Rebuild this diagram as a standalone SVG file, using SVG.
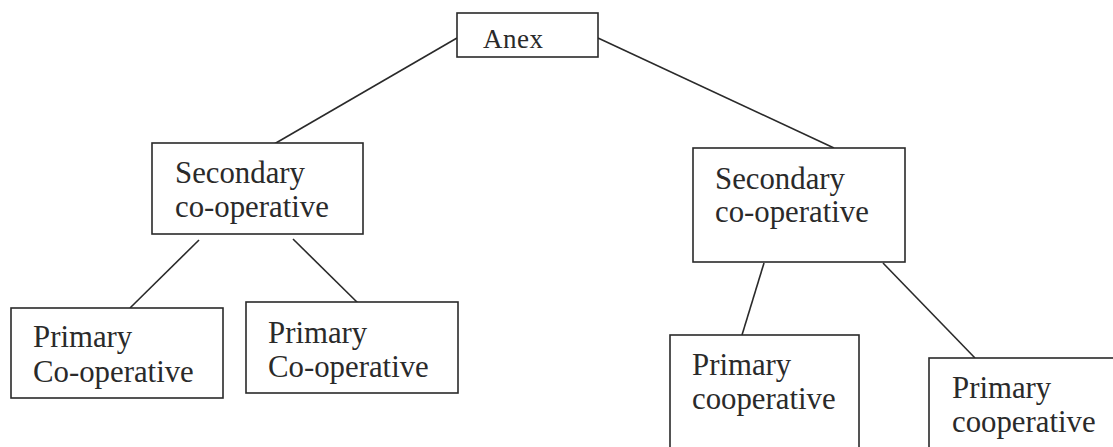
<svg xmlns="http://www.w3.org/2000/svg" width="1113" height="447" viewBox="0 0 1113 447">
<style>
.box{fill:#fff;stroke:#2a2a2a;stroke-width:1.6}
.lbl{font-family:"Liberation Serif","Times New Roman",serif;font-size:30.8px;fill:#2a2a2a}
.apex{font-family:"Liberation Serif","Times New Roman",serif;font-size:27px;fill:#2a2a2a;letter-spacing:0.5px}
.edge{stroke:#2a2a2a;stroke-width:1.6;fill:none}
</style>
<rect width="1113" height="447" fill="#fff"/>
<g id="connectors">
<line class="edge" x1="457" y1="38" x2="269" y2="147"/>
<line class="edge" x1="598" y1="38" x2="834" y2="148"/>
<line class="edge" x1="199" y1="240" x2="130" y2="308"/>
<line class="edge" x1="293" y1="239" x2="363" y2="308"/>
<line class="edge" x1="764" y1="263" x2="742" y2="335"/>
<line class="edge" x1="883" y1="263" x2="975" y2="358"/>
</g>
<g id="apex">
<rect class="box" x="457" y="13" width="141" height="44"/>
<text class="apex" x="483" y="48">Anex</text>
</g>
<g id="secondary-left">
<rect class="box" x="152" y="143" width="211" height="91"/>
<text class="lbl" x="175" y="183">Secondary</text>
<text class="lbl" x="175" y="217">co-operative</text>
</g>
<g id="secondary-right">
<rect class="box" x="693" y="148" width="212" height="114"/>
<text class="lbl" x="715" y="189">Secondary</text>
<text class="lbl" x="715" y="222">co-operative</text>
</g>
<g id="primary-1">
<rect class="box" x="11" y="308" width="212" height="90"/>
<text class="lbl" x="33" y="347">Primary</text>
<text class="lbl" x="33" y="382">Co-operative</text>
</g>
<g id="primary-2">
<rect class="box" x="246" y="302" width="212" height="91"/>
<text class="lbl" x="268" y="343">Primary</text>
<text class="lbl" x="268" y="377">Co-operative</text>
</g>
<g id="primary-3">
<rect class="box" x="670" y="335" width="189" height="130"/>
<text class="lbl" x="692" y="375">Primary</text>
<text class="lbl" x="692" y="409">cooperative</text>
</g>
<g id="primary-4">
<rect class="box" x="929" y="358" width="200" height="110"/>
<text class="lbl" x="952" y="398">Primary</text>
<text class="lbl" x="952" y="432">cooperative</text>
</g>
</svg>
